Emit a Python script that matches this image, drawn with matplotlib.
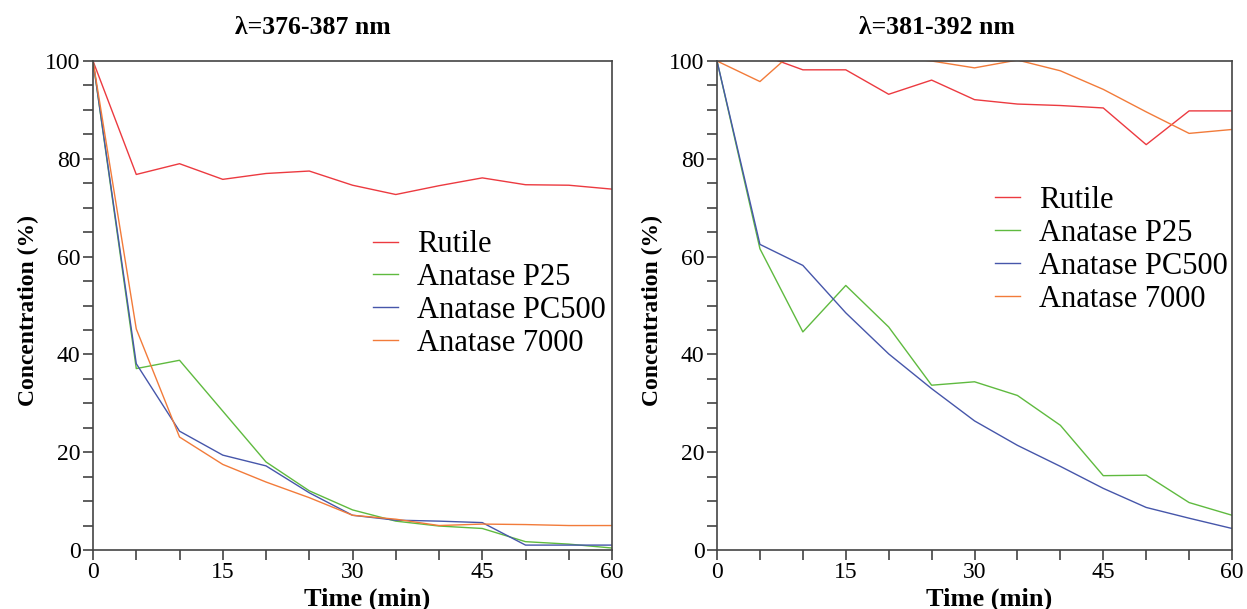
import numpy as np
import matplotlib
matplotlib.use('Agg')
import matplotlib.pyplot as plt
from matplotlib.ticker import MultipleLocator

plt.rcParams['font.family'] = ['Liberation Serif', 'DejaVu Serif']

# Data
time_min = [0, 5, 10, 15, 20, 25, 30, 35, 40, 45, 50, 55, 60]
labels = ['Rutile', 'Anatase P25', 'Anatase PC500', 'Anatase 7000']
titles = ['λ=376-387 nm', 'λ=381-392 nm']

rutile_a = [100, 76.8, 79.0, 75.8, 77.0, 77.5, 74.6, 72.7, 74.5, 76.1, 74.7, 74.6, 73.8]
p25_a = [100, 37.1, 38.8, 28.4, 18.0, 12.1, 8.2, 5.9, 4.9, 4.4, 1.7, 1.2, 0.4]
pc500_a = [100, 38.1, 24.3, 19.4, 17.2, 11.7, 7.1, 6.1, 5.9, 5.6, 1.0, 1.0, 1.0]
a7000_a = [100, 45.2, 23.1, 17.5, 13.9, 10.7, 7.1, 6.3, 5.0, 5.3, 5.2, 5.0, 5.0]

rutile_b = [100, 101.4, 98.2, 98.2, 93.2, 96.1, 92.1, 91.2, 90.9, 90.4, 82.9, 89.8, 89.8]
p25_b = [100, 61.6, 44.6, 54.1, 45.6, 33.7, 34.4, 31.6, 25.5, 15.2, 15.3, 9.7, 7.1]
pc500_b = [100, 62.5, 58.2, 48.5, 40.1, 33.0, 26.4, 21.4, 17.1, 12.6, 8.7, 6.5, 4.4]
a7000_b = [100, 95.8, 103.6, 102.0, 101.0, 100.0, 98.6, 100.2, 98.0, 94.2, 89.6, 85.2, 86.0]

COLORS = ['#ec3a40', '#5fba3f', '#4656aa', '#f27b3a']

panels = [
    (titles[0], [rutile_a, p25_a, pc500_a, a7000_a]),
    (titles[1], [rutile_b, p25_b, pc500_b, a7000_b]),
]

fig = plt.figure(figsize=(12.47, 6.09), dpi=100)
ax_a = fig.add_axes([0.0746, 0.0969, 0.4162, 0.8029])
ax_b = fig.add_axes([0.5750, 0.0969, 0.4130, 0.8029])
legend_pos = [(0.2990, 0.6220), (0.7980, 0.6950)]
title_x = [313 / 1247, 937 / 1247]
xlabel_x = [0.529, 0.529]

for ax, (title, series), lpos, tx, lx in zip([ax_a, ax_b], panels, legend_pos,
                                             title_x, xlabel_x):
    for vals, lab, col in zip(series, labels, COLORS):
        ax.plot(time_min, vals, color=col, linewidth=1.0, label=lab)

    ax.set_xlim(0, 60)
    ax.set_ylim(0, 100)
    ax.xaxis.set_major_locator(MultipleLocator(15))
    ax.xaxis.set_minor_locator(MultipleLocator(5))
    ax.yaxis.set_major_locator(MultipleLocator(20))
    ax.yaxis.set_minor_locator(MultipleLocator(5))
    ax.tick_params(which='major', length=7, width=1.1, color='#333333',
                   labelsize=17, pad=2)
    ax.tick_params(which='minor', length=7, width=1.1, color='#333333')
    for sp in ax.spines.values():
        sp.set_color('#444444')
        sp.set_linewidth(1.2)

    fig.text(tx, 1 - 27 / 609, title, fontsize=18.5, fontweight='bold',
             ha='center', va='center')
    ax.set_xlabel('Time (min)', fontsize=19, fontweight='bold')
    ax.xaxis.set_label_coords(lx, -0.077)
    ax.set_ylabel('Concentration (%)', fontsize=17, fontweight='bold')
    ax.yaxis.set_label_coords(-0.104, 0.49)

    ax.legend(loc='upper left', bbox_to_anchor=lpos, bbox_transform=fig.transFigure,
              frameon=False, fontsize=22, handlelength=0.82, handletextpad=0.62,
              labelspacing=0.13, borderpad=0, borderaxespad=0)

fig.savefig('out.png', dpi=100)
